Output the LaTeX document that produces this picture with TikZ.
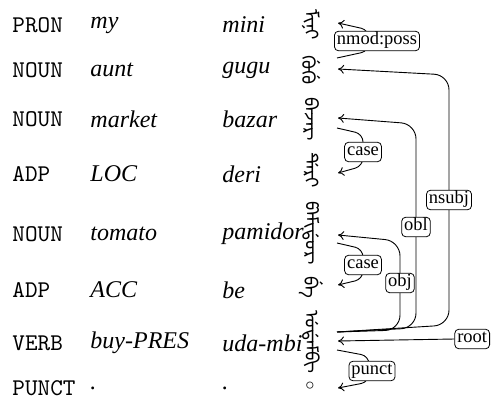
\documentclass[tikz,border=0pt]{standalone}
\usepackage{fontspec}
\setmainfont{Liberation Serif}
\newfontfamily\mong[Script=Mongolian]{Noto Sans Mongolian}
\newfontfamily\symfont{DejaVu Sans}
\usetikzlibrary{arrows.meta}
\begin{document}
\begin{tikzpicture}[x=0.41667pt,y=-0.41667pt,
  every node/.style={inner sep=0pt},
  poscol/.style={anchor=west,font=\fontsize{10}{12}\selectfont\ttfamily},
  glcol/.style={anchor=west,font=\fontsize{10}{12}\selectfont\itshape},
  mwcol/.style={rotate=-90,font=\fontsize{7.8}{9}\selectfont\mong},
  deplab/.style={draw, line width=0.33pt, rounded corners=1.7pt, fill=white,
    inner xsep=1.05pt, inner ysep=0.85pt, text height=4.8pt, text depth=1.65pt,
    font=\fontsize{7.7}{9}\selectfont},
  deparc/.style={line width=0.38pt, -{To[length=2.5pt,width=3.7pt]}},
  shortarc/.style={deparc, rounded corners=3.3pt},
  longarc/.style={deparc, rounded corners=6.2pt}
]
\useasboundingbox (0,0) rectangle (491,403);
% rows
\foreach \i/\y/\p/\g/\w in {1/25/PRON/my/mini, 2/70/NOUN/aunt/gugu, 3/119/NOUN/market/bazar,
  4/174/ADP/LOC/deri, 5/234/NOUN/tomato/pamidor, 6/290/ADP/ACC/be,
  7/343/VERB/buy-PRES/uda-mbi, 8/388/PUNCT/./.}{
  \node[poscol] (p\i) at (12,\y) {\p};
  \node[glcol] (g\i) at (90,\y) {\g};
  \node[glcol] (t\i) at (222,\y) {\w};
}
\node[mwcol] (m1) at (311,25) {ᠮᡳᠨᡳ};
\node[mwcol] (m2) at (311,70) {ᡤᡠᡤᡠ};
\node[mwcol] (m3) at (311,119) {ᠪᠠᠵᠠᡵ};
\node[mwcol] (m4) at (311,170) {ᡩᡝᡵᡳ};
\node[mwcol] (m5) at (311,233) {ᡦᠠᠮᡳᡩᠣᡵ};
\node[mwcol] (m6) at (311,287) {ᠪᡝ};
\node[mwcol] (m7) at (311,342) {ᡠᡩᠠᠮᠪᡳ};
\node[font=\fontsize{10}{12}\selectfont\symfont] (m8) at (310,388) {◦};
% anchor points
\coordinate (m1in) at (338,23);
\coordinate (m2out) at (337,58);
\coordinate (m2in) at (338,69);
\coordinate (m3in) at (338,118);
\coordinate (m3out) at (337,128);
\coordinate (m4in) at (338,173);
\coordinate (m5in) at (338,235);
\coordinate (m5out) at (337,243);
\coordinate (m6in) at (338,285);
\coordinate (m7out) at (337,332);
\coordinate (m7in) at (338,341);
\coordinate (m7down) at (337,350);
\coordinate (m8in) at (338,388);
% edges
\draw[shortarc] (m2out) -- (369,51) -- (369,30) -- (m1in);
\draw[shortarc] (m3out) -- (363,134) -- (363,166) -- (m4in);
\draw[shortarc] (m5out) -- (363,249) -- (363,279) -- (m6in);
\draw[shortarc] (m7down) -- (369,356) -- (369,382) -- (m8in);
\draw[longarc] (m7out) -- (449,325) -- (449,75) -- (m2in);
\draw[longarc] (m7out) -- (416,328) -- (416,124) -- (m3in);
\draw[longarc] (m7out) -- (400,330) -- (400,241) -- (m5in);
% labels
\node[deplab] (l1) at (377,41) {nmod:poss};
\node[deplab] (l2) at (363,152) {case};
\node[deplab] (l3) at (363,265) {case};
\node[deplab] (l4) at (372,371) {punct};
\node[deplab] (l5) at (449,200) {nsubj};
\node[deplab] (l6) at (416,227) {obl};
\node[deplab] (l7) at (400,283) {obj};
\node[deplab,anchor=east] (l8) at (490,339) {root};
\draw[deparc] (l8.west) -- (m7in);
\end{tikzpicture}
\end{document}
